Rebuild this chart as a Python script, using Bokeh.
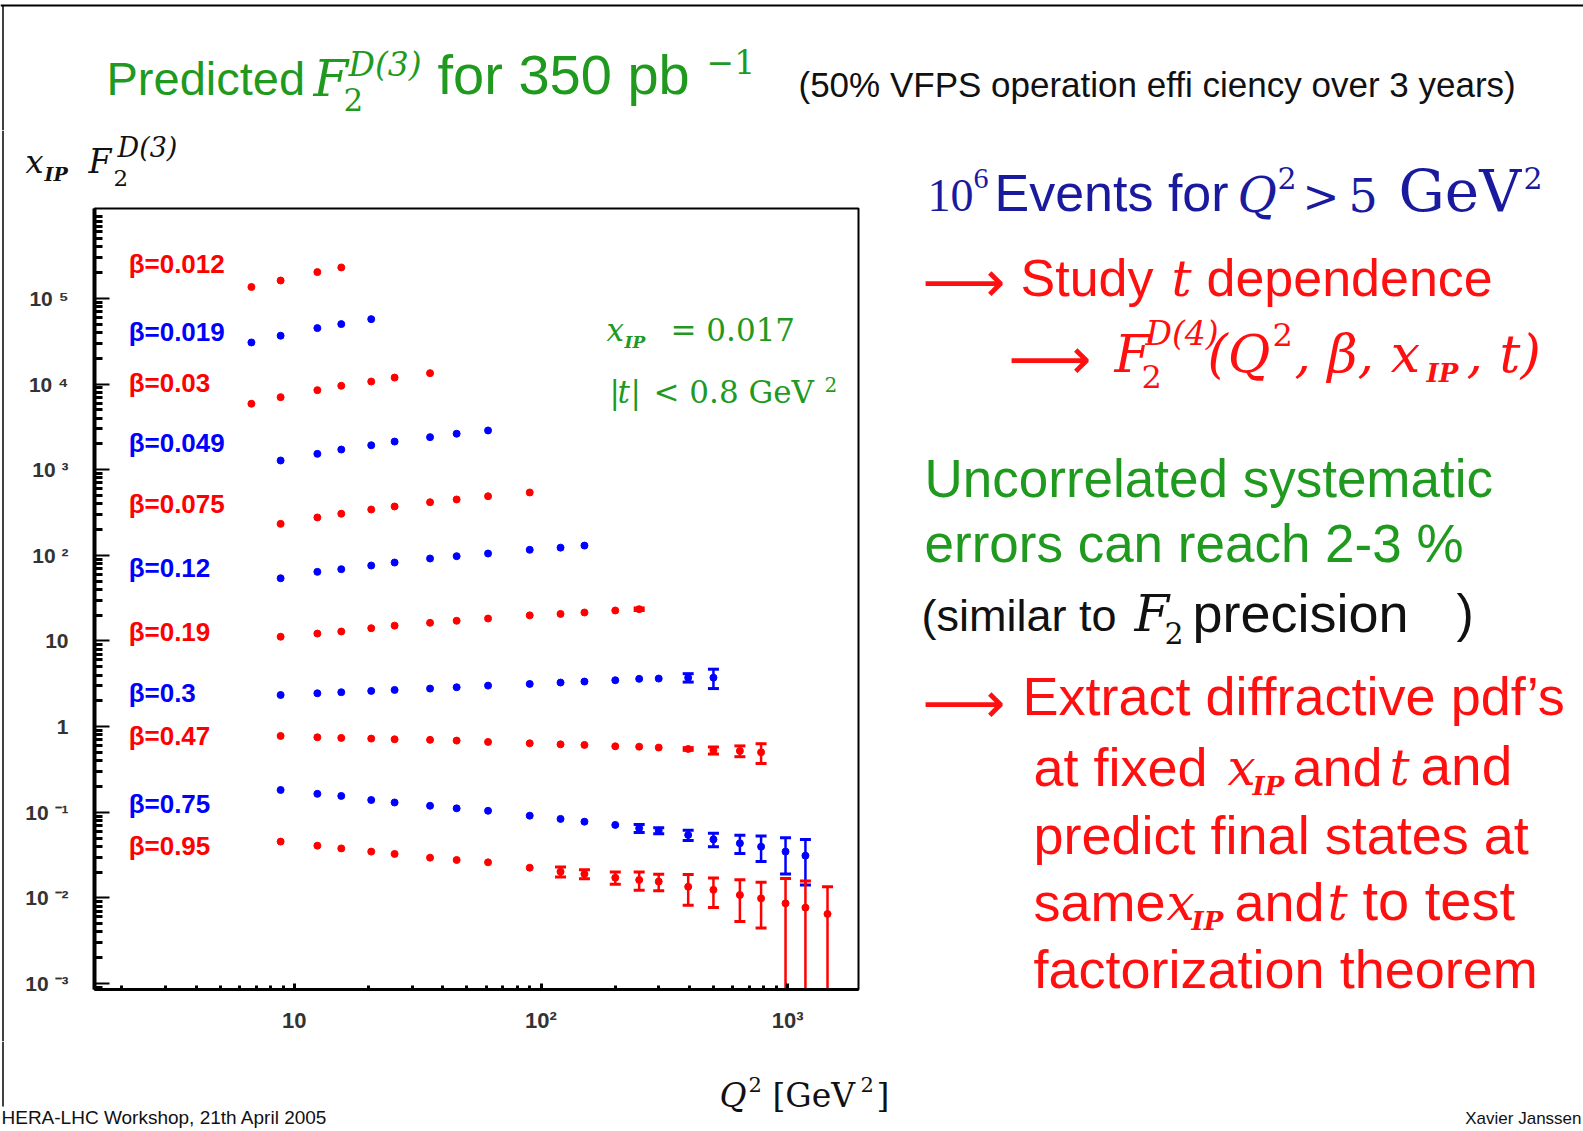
from bokeh.plotting import figure
from bokeh.models import Range1d, FixedTicker, Label
from bokeh.layouts import column, row
from bokeh.core.properties import value
from bokeh.embed import file_html
from bokeh.resources import INLINE

# ---------------- data ----------------
BETAS = ["0.012", "0.019", "0.03", "0.049", "0.075", "0.12", "0.19", "0.3", "0.47", "0.75", "0.95"]
SERIES_COLORS = ["red", "blue", "red", "blue", "red", "blue", "red", "blue", "red", "blue", "red"]

Q2_B1 = [6.7, 8.8, 12.4, 15.5]
F2_B1 = [1.36e5, 1.62e5, 2.03e5, 2.30e5]
ER_B1 = [0, 0, 0, 0]

Q2_B2 = [6.7, 8.8, 12.4, 15.5, 20.5]
F2_B2 = [3.06e4, 3.67e4, 4.50e4, 5.01e4, 5.73e4]
ER_B2 = [0, 0, 0, 0, 0]

Q2_B3 = [6.7, 8.8, 12.4, 15.5, 20.5, 25.5, 35.5]
F2_B3 = [5890, 7030, 8490, 9550, 10700, 11900, 13400]
ER_B3 = [0, 0, 0, 0, 0, 0, 0]

Q2_B4 = [8.8, 12.4, 15.5, 20.5, 25.5, 35.5, 45.5, 61]
F2_B4 = [1280, 1530, 1720, 1930, 2130, 2400, 2630, 2870]
ER_B4 = [0, 0, 0, 0, 0, 0, 0, 0]

Q2_B5 = [8.8, 12.4, 15.5, 20.5, 25.5, 35.5, 45.5, 61, 90]
F2_B5 = [233, 277, 306, 343, 372, 417, 449, 490, 542]
ER_B5 = [0, 0, 0, 0, 0, 0, 0, 0, 0]

Q2_B6 = [8.8, 12.4, 15.5, 20.5, 25.5, 35.5, 45.5, 61, 90, 120, 150]
F2_B6 = [54, 64.1, 68.9, 76.0, 82.4, 91.8, 97.7, 105, 116, 123, 130]
ER_B6 = [0, 0, 0, 0, 0, 0, 0, 0, 0, 0, 0]

Q2_B7 = [8.8, 12.4, 15.5, 20.5, 25.5, 35.5, 45.5, 61, 90, 120, 150, 200, 250]
F2_B7 = [11.2, 12.2, 12.9, 14.1, 15.1, 16.3, 17.2, 18.3, 19.9, 20.7, 21.5, 22.7, 23.5]
ER_B7 = [0, 0, 0, 0, 0, 0, 0, 0, 0, 0, 0, 0, 0.8]

Q2_B8 = [8.8, 12.4, 15.5, 20.5, 25.5, 35.5, 45.5, 61, 90, 120, 150, 200, 250, 300, 395, 500]
F2_B8 = [2.34, 2.45, 2.52, 2.61, 2.68, 2.78, 2.88, 3.01, 3.15, 3.27, 3.36, 3.48, 3.61, 3.64, 3.73, 3.73]
ER_B8 = [0, 0, 0, 0, 0, 0, 0, 0, 0, 0, 0, 0, 0, 0, 0.42, 0.95]

Q2_B9 = [8.8, 12.4, 15.5, 20.5, 25.5, 35.5, 45.5, 61, 90, 120, 150, 200, 250, 300, 395, 500, 640, 780]
F2_B9 = [0.778, 0.750, 0.738, 0.724, 0.711, 0.700, 0.686, 0.662, 0.638, 0.621, 0.611, 0.589, 0.583,
         0.569, 0.548, 0.528, 0.520, 0.501]
ER_B9 = [0, 0, 0, 0, 0, 0, 0, 0, 0, 0, 0, 0, 0, 0, 0.02, 0.05, 0.075, 0.13]

Q2_B10 = [8.8, 12.4, 15.5, 20.5, 25.5, 35.5, 45.5, 61, 90, 120, 150, 200, 250, 300, 395, 500, 640, 780,
          980, 1180]
F2_B10 = [0.182, 0.164, 0.155, 0.139, 0.130, 0.119, 0.111, 0.104, 0.0912, 0.0836, 0.0776, 0.0711, 0.0649,
          0.0610, 0.0543, 0.0482, 0.0434, 0.0396, 0.0347, 0.0311]
ER_B10 = [0, 0, 0, 0, 0, 0, 0, 0, 0, 0, 0, 0, 0.0068, 0.005, 0.0074, 0.0087, 0.0104, 0.0131, 0.0157, 0.017]

Q2_B11 = [8.8, 12.4, 15.5, 20.5, 25.5, 35.5, 45.5, 61, 90, 120, 150, 200, 250, 300, 395, 500, 640, 780,
          980, 1180, 1450]
F2_B11 = [0.0454, 0.0407, 0.0378, 0.0347, 0.0326, 0.0295, 0.0277, 0.0260, 0.0225, 0.0202, 0.0190, 0.0172,
          0.0162, 0.0155, 0.0135, 0.0124, 0.0108, 0.00986, 0.00863, 0.00769, 0.00649]
ER_B11 = [0, 0, 0, 0, 0, 0, 0, 0, 0, 0.0027, 0.0023, 0.0028, 0.0039, 0.0034, 0.0053, 0.0047, 0.0055,
          0.0054, 0.0082, 0.0080, 0.0070]

ALL_Q2 = [Q2_B1, Q2_B2, Q2_B3, Q2_B4, Q2_B5, Q2_B6, Q2_B7, Q2_B8, Q2_B9, Q2_B10, Q2_B11]
ALL_F2 = [F2_B1, F2_B2, F2_B3, F2_B4, F2_B5, F2_B6, F2_B7, F2_B8, F2_B9, F2_B10, F2_B11]
ALL_ER = [ER_B1, ER_B2, ER_B3, ER_B4, ER_B5, ER_B6, ER_B7, ER_B8, ER_B9, ER_B10, ER_B11]

# annotation anchors for the beta labels (data coordinates)
LABEL_X = 2.13
LABEL_Y = [2.5e5, 4.0e4, 1.04e4, 2.07e3, 395, 72, 12.6, 2.5, 0.78, 0.124, 0.0405]

Y_TICKS = [1e-3, 1e-2, 1e-1, 1, 10, 100, 1000, 1e4, 1e5]
Y_TICK_LABELS = ["10 \u207b\u00b3", "10 \u207b\u00b2", "10 \u207b\u00b9", "1", "10", "10 \u00b2",
                 "10 \u00b3", "10 \u2074", "10 \u2075"]
X_TICKS = [10, 100, 1000]
X_TICK_LABELS = ["10", "10\u00b2", "10\u00b3"]

# ---------------- page geometry ----------------
W, H = 1583, 1131
TOP_H = 130
STRIP_W = 6
YT_H = 76
PLOT_W, PLOT_H = 874, 835
RIGHT_W = W - STRIP_W - PLOT_W
MID_H = YT_H + PLOT_H
BOT_H = H - TOP_H - MID_H
FL, FR, FT, FB = 94, 858, 208, 989
X_RANGE = (10 ** 0.19, 10 ** 3.287)
Y_RANGE = (10 ** -3.07, 10 ** 6.05)

GREEN = "#1f9a1f"
RED = "#ff1010"
NAVY = "#1a1a9e"
BLACK = "#111111"
SANS = "Liberation Sans"
SERIF = "DejaVu Serif"
ARROW = "\u27f6"
MID = 0.35   # em offset between baseline and the middle of the text box


def no_align(f):
    try:
        f.frame_align = False
    except Exception:
        pass


def text_fig(x0, y0, w, h):
    f = figure(width=w, height=h, x_range=Range1d(x0, x0 + w), y_range=Range1d(y0 + h, y0),
               x_axis_type=None, y_axis_type=None, output_backend="svg", toolbar_location=None,
               min_border=0)
    f.grid.visible = False
    f.outline_line_color = None
    f.background_fill_color = "white"
    f.border_fill_color = "white"
    no_align(f)
    return f


def put(f, X, Y, s, size, color, font=SANS, style="normal", align="left", center=False):
    ym = Y if center else Y - MID * size
    f.text(x=[X], y=[ym], text=[s], text_font=value(font), text_font_size=f"{size}px",
           text_color=color, text_font_style=style, text_align=align, text_baseline="middle")


# ---------------- log plot ----------------
p = figure(width=PLOT_W, height=PLOT_H, x_axis_type="log", y_axis_type="log",
           x_range=Range1d(*X_RANGE), y_range=Range1d(*Y_RANGE),
           output_backend="svg", toolbar_location=None,
           min_border_left=FL - STRIP_W, min_border_right=STRIP_W + PLOT_W - FR,
           min_border_top=FT - (TOP_H + YT_H), min_border_bottom=(TOP_H + MID_H) - FB)
no_align(p)
p.grid.visible = False
p.background_fill_color = "white"
p.border_fill_color = "white"
p.outline_line_color = "black"
p.outline_line_width = 2

minor = [m * 10.0 ** k for k in range(-4, 7) for m in range(2, 10)]
p.yaxis.ticker = FixedTicker(ticks=Y_TICKS, minor_ticks=minor)
p.xaxis.ticker = FixedTicker(ticks=X_TICKS, minor_ticks=minor)
p.yaxis.major_label_overrides = dict(zip(Y_TICKS, Y_TICK_LABELS))
p.xaxis.major_label_overrides = dict(zip(X_TICKS, X_TICK_LABELS))
for ax in (p.xaxis, p.yaxis):
    ax.axis_line_color = "black"
    ax.major_tick_line_color = "black"
    ax.minor_tick_line_color = "black"
    ax.major_tick_out = 0
    ax.minor_tick_out = 0
    ax.major_label_text_font = "Liberation Sans"
    ax.major_label_text_font_style = "bold"
    ax.major_label_text_color = "#333333"
p.yaxis.major_label_text_font_size = "21px"
p.xaxis.major_label_text_font_size = "22px"
p.yaxis.axis_line_width = 4
p.yaxis.major_tick_in = 15
p.yaxis.minor_tick_in = 8
p.yaxis.major_tick_line_width = 2
p.yaxis.minor_tick_line_width = 3
p.yaxis.major_label_standoff = 26
p.xaxis.axis_line_width = 3
p.xaxis.major_tick_in = 6
p.xaxis.minor_tick_in = 4
p.xaxis.major_tick_line_width = 3
p.xaxis.minor_tick_line_width = 3
p.xaxis.major_label_standoff = 18

y_floor = Y_RANGE[0] * 0.3
for xs, ys, es, col in zip(ALL_Q2, ALL_F2, ALL_ER, SERIES_COLORS):
    ex = [x for x, e in zip(xs, es) if e > 0]
    ey_hi = [y + e for y, e in zip(ys, es) if e > 0]
    ey_lo = [max(y - e, y_floor) for y, e in zip(ys, es) if e > 0]
    if ex:
        p.segment(x0=ex, y0=ey_lo, x1=ex, y1=ey_hi, line_color=col, line_width=2.5)
        p.scatter(x=ex, y=ey_hi, marker="dash", size=11, line_color=col, line_width=3)
        lx = [x for x, y, e in zip(xs, ys, es) if e > 0 and y - e > 0]
        ly = [y - e for y, e in zip(ys, es) if e > 0 and y - e > 0]
        p.scatter(x=lx, y=ly, marker="dash", size=11, line_color=col, line_width=3)
    p.scatter(x=xs, y=ys, marker="circle", size=7, color=col)

p.text(x=[LABEL_X] * len(BETAS), y=LABEL_Y, text=["\u03b2=" + b for b in BETAS],
       text_color=SERIES_COLORS, text_font=value("Liberation Sans"), text_font_style="bold",
       text_font_size="26px", text_baseline="middle", text_align="left")


def plabel(X, Y, s, size, color, font=SERIF, style="normal"):
    p.add_layout(Label(x=X - FL, y=FB - (Y - MID * size), x_units="screen", y_units="screen", text=s,
                       text_font=font, text_font_size=f"{size}px", text_color=color,
                       text_font_style=style, text_baseline="middle"))


plabel(606, 340, "x", 31, GREEN, style="italic")
plabel(624, 347, "IP", 17, GREEN, style="bold italic")
plabel(670, 340, "= 0.017", 31, GREEN)
plabel(609, 402, "|", 31, GREEN)
plabel(617, 402, "t", 31, GREEN, style="italic")
plabel(630, 402, "|", 31, GREEN)
plabel(653, 402, "< 0.8 GeV", 31, GREEN)
plabel(824, 391, "2", 20, GREEN)

# ---------------- title strip ----------------
top = text_fig(0, 0, W, TOP_H)
top.segment(x0=[0], y0=[5], x1=[W], y1=[5], line_color="black", line_width=2)
top.segment(x0=[2.5], y0=[5], x1=[2.5], y1=[TOP_H], line_color="black", line_width=1.5)
put(top, 106, 94, "Predicted", 47, GREEN)
put(top, 313, 96, "F", 50, GREEN, SERIF, "italic")
put(top, 348, 76, "D(3)", 33, GREEN, SERIF, "italic")
put(top, 343, 110, "2", 31, GREEN, SERIF)
put(top, 437, 94, "for 350 pb", 56, GREEN)
put(top, 706, 73, "\u22121", 33, GREEN, SERIF)
put(top, 798, 96, "(50% VFPS operation effi ciency over 3 years)", 35, BLACK)

# ---------------- left border strip ----------------
strip = text_fig(0, TOP_H, STRIP_W, MID_H)
strip.segment(x0=[2.5], y0=[TOP_H], x1=[2.5], y1=[TOP_H + MID_H], line_color="black", line_width=1.5)

# ---------------- y-axis title strip ----------------
yt = text_fig(STRIP_W, TOP_H, PLOT_W, YT_H)
put(yt, 25, 173, "x", 32, BLACK, SERIF, "italic")
put(yt, 44, 180, "IP", 19, BLACK, SERIF, "bold italic")
put(yt, 88, 173, "F", 33, BLACK, SERIF, "italic")
put(yt, 117, 156, "D(3)", 27, BLACK, SERIF, "italic")
put(yt, 113, 186, "2", 23, BLACK, SERIF)

# ---------------- right text block ----------------
rt = text_fig(STRIP_W + PLOT_W, TOP_H, RIGHT_W, MID_H)
put(rt, 927, 211, "10", 46, NAVY, "Liberation Serif")
put(rt, 973, 188, "6", 30, NAVY, "Liberation Serif")
put(rt, 994, 211, "Events for", 52, NAVY)
put(rt, 1237, 211, "Q", 48, NAVY, SERIF, "italic")
put(rt, 1277, 188, "2", 30, NAVY, SERIF)
put(rt, 1302, 211, ">", 44, NAVY, SERIF)
put(rt, 1348, 211, "5", 46, NAVY, SERIF)
put(rt, 1398, 211, "GeV", 58, NAVY, SERIF)
put(rt, 1523, 188, "2", 30, NAVY, SERIF)

put(rt, 922, 281, ARROW, 58, RED, "DejaVu Sans", center=True)
put(rt, 1020, 296, "Study", 52, RED)
put(rt, 1171, 296, "t", 50, RED, SERIF, "italic")
put(rt, 1206, 296, "dependence", 52, RED)

put(rt, 1008, 358, ARROW, 58, RED, "DejaVu Sans", center=True)
put(rt, 1114, 372, "F", 52, RED, SERIF, "italic")
put(rt, 1145, 345, "D(4)", 33, RED, SERIF, "italic")
put(rt, 1141, 387, "2", 32, RED, SERIF)
put(rt, 1207, 372, "(Q", 52, RED, SERIF, "italic")
put(rt, 1272, 345, "2", 32, RED, SERIF)
put(rt, 1294, 372, ", \u03b2, x", 52, RED, SERIF, "italic")
put(rt, 1426, 382, "IP", 26, RED, SERIF, "bold italic")
put(rt, 1466, 372, ", t)", 52, RED, SERIF, "italic")

put(rt, 924, 497, "Uncorrelated systematic", 53, GREEN)
put(rt, 924, 562, "errors can reach 2-3 %", 53, GREEN)
put(rt, 921, 631, "(similar to", 45, BLACK)
put(rt, 1134, 631, "F", 50, BLACK, SERIF, "italic")
put(rt, 1164, 643, "2", 30, BLACK, SERIF)
put(rt, 1192, 631, "precision", 54, BLACK)
put(rt, 1456, 631, ")", 52, BLACK)

put(rt, 922, 702, ARROW, 58, RED, "DejaVu Sans", center=True)
put(rt, 1022, 714, "Extract diffractive pdf\u2019s", 54, RED)
put(rt, 1033, 785, "at fixed", 54, RED)
put(rt, 1227, 785, "x", 50, RED, SERIF, "italic")
put(rt, 1252, 795, "IP", 26, RED, SERIF, "bold italic")
put(rt, 1292, 785, "and", 54, RED)
put(rt, 1389, 785, "t", 50, RED, SERIF, "italic")
put(rt, 1420, 785, "and", 55, RED)
put(rt, 1033, 853, "predict final states at", 54, RED)
put(rt, 1033, 920, "same", 54, RED)
put(rt, 1166, 920, "x", 50, RED, SERIF, "italic")
put(rt, 1191, 930, "IP", 26, RED, SERIF, "bold italic")
put(rt, 1234, 920, "and", 54, RED)
put(rt, 1327, 920, "t", 50, RED, SERIF, "italic")
put(rt, 1362, 920, "to test", 56, RED)
put(rt, 1033, 987, "factorization theorem", 54, RED)

# ---------------- bottom strip ----------------
bot = text_fig(0, TOP_H + MID_H, W, BOT_H)
bot.segment(x0=[2.5], y0=[TOP_H + MID_H], x1=[2.5], y1=[1106], line_color="black", line_width=1.5)
put(bot, 719, 1107, "Q", 33, BLACK, SERIF, "italic")
put(bot, 748, 1091, "2", 21, BLACK, SERIF)
put(bot, 772, 1107, "[GeV", 33, BLACK, SERIF)
put(bot, 860, 1091, "2", 21, BLACK, SERIF)
put(bot, 876, 1107, "]", 33, BLACK, SERIF)
put(bot, 1, 1124, "HERA-LHC Workshop, 21th April 2005", 19, BLACK)
put(bot, 1581, 1124, "Xavier Janssen", 17, BLACK, align="right")

layout = column(top, row(strip, column(yt, p), rt), bot)
open("out.html", "w").write(file_html(layout, INLINE))
